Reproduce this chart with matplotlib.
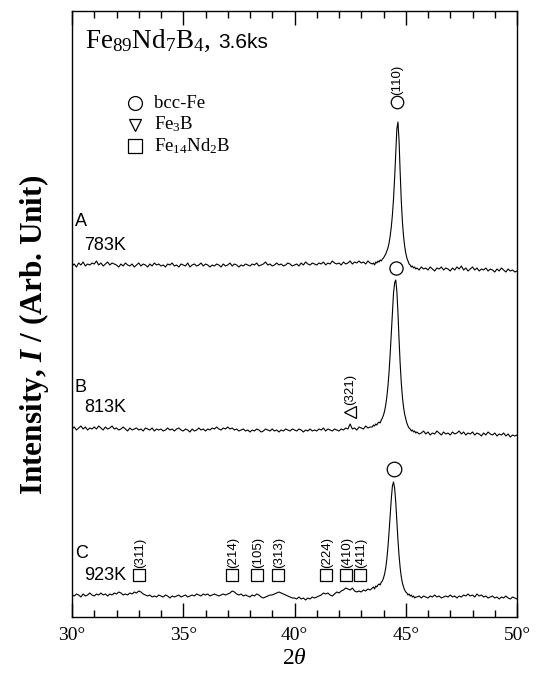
import numpy as np
import matplotlib.pyplot as plt

plt.rcParams['font.family'] = ['Liberation Sans', 'DejaVu Sans']
plt.rcParams['mathtext.fontset'] = 'custom'
plt.rcParams['mathtext.rm'] = 'Liberation Serif'
plt.rcParams['mathtext.it'] = 'Liberation Serif:italic'
plt.rcParams['mathtext.bf'] = 'Liberation Serif:bold'
plt.rcParams['mathtext.bfit'] = 'Liberation Serif:italic:bold'

SERIF = 'Liberation Serif'

# scan grid: 0.1 deg steps, 0.05 deg across the bcc-Fe (110) peak
tt_low = np.arange(300, 435) / 10      # 30.0 - 43.4
tt_peak = np.arange(870, 910) / 20     # 43.50 - 45.45
tt_high = np.arange(455, 501) / 10     # 45.5 - 50.0
two_theta = np.concatenate([tt_low, tt_peak, tt_high])

# --- A: 783 K ---
a_low = [11, 13, 10, 14, 12, 15, 11, 13, 12, 14,
         13, 16, 12, 14, 11, 13, 15, 12, 14, 13,
         12, 10, 13, 11, 14, 12, 11, 13, 10, 12,
         14, 11, 13, 12, 10, 13, 11, 14, 12, 13,
         11, 12, 10, 13, 12, 14, 11, 12, 10, 13,
         12, 11, 14, 10, 12, 13, 11, 12, 14, 11,
         13, 12, 10, 12, 11, 13, 12, 10, 13, 11,
         12, 14, 11, 13, 12, 10, 12, 11, 13, 12,
         11, 13, 12, 14, 11, 12, 13, 15, 12, 13,
         11, 12, 14, 12, 13, 11, 12, 14, 13, 11,
         12, 13, 11, 14, 12, 15, 13, 12, 14, 13,
         12, 14, 13, 15, 12, 14, 13, 16, 14, 13,
         14, 12, 15, 13, 14, 16, 13, 15, 14, 16,
         14, 15, 13, 16, 14]
a_peak = [13, 14, 12, 15, 14, 16, 15, 17, 16, 18,
          19, 21, 23, 26, 29, 34, 41, 50, 62, 78,
          99, 124, 148, 155, 136, 104, 76, 55, 41, 31,
          24, 19, 16, 13, 12, 10, 11, 9, 10, 8]
a_high = [9, 7, 10, 8, 9,
          7, 10, 8, 6, 9, 8, 10, 7, 9, 8,
          6, 9, 7, 10, 8, 11, 7, 9, 6, 8,
          10, 7, 9, 6, 8, 7, 9, 6, 8, 7,
          5, 8, 6, 9, 7, 5, 8, 6, 7, 5,
          6]

# --- B: 813 K ---
b_low = [12, 14, 11, 13, 15, 12, 14, 11, 13, 12,
         14, 12, 15, 13, 11, 14, 12, 13, 15, 12,
         13, 11, 12, 14, 12, 10, 13, 11, 12, 13,
         11, 12, 10, 13, 12, 11, 13, 10, 12, 11,
         12, 10, 11, 13, 11, 12, 10, 12, 13, 11,
         10, 12, 11, 9, 12, 10, 11, 13, 11, 12,
         10, 12, 11, 13, 12, 14, 12, 11, 13, 12,
         14, 12, 13, 11, 12, 10, 11, 12, 10, 11,
         9, 11, 10, 12, 11, 9, 10, 12, 11, 10,
         12, 10, 11, 9, 11, 10, 12, 11, 10, 12,
         11, 10, 12, 11, 9, 11, 10, 12, 10, 11,
         10, 12, 11, 13, 10, 12, 11, 10, 12, 11,
         10, 12, 11, 13, 12, 17, 12, 13, 11, 14,
         13, 12, 15, 13, 14]
b_peak = [14, 16, 15, 17, 16, 18, 19, 18, 21, 23,
          26, 30, 36, 44, 55, 69, 87, 108, 130, 148,
          158, 161, 150, 128, 101, 77, 58, 44, 34, 27,
          22, 18, 15, 13, 12, 10, 11, 9, 10, 8]
b_high = [9, 7, 8, 10, 7,
          9, 6, 8, 7, 10, 8, 6, 9, 7, 8,
          6, 9, 7, 8, 10, 7, 9, 6, 8, 7,
          9, 6, 8, 7, 5, 8, 6, 9, 7, 6,
          8, 5, 7, 6, 8, 5, 7, 4, 6, 5,
          6]

# --- C: 923 K ---
c_low = [8, 7, 9, 8, 6, 9, 7, 8, 10, 8,
         7, 9, 8, 10, 8, 9, 7, 9, 8, 10,
         9, 11, 10, 8, 9, 8, 10, 9, 11, 10,
         12, 11, 9, 8, 7, 8, 6, 7, 6, 8,
         7, 6, 8, 7, 5, 7, 6, 7, 8, 6,
         7, 8, 6, 7, 8, 7, 9, 8, 7, 9,
         8, 9, 7, 8, 9, 8, 7, 8, 9, 8,
         9, 10, 12, 11, 9, 8, 9, 7, 8, 7,
         6, 8, 7, 9, 8, 6, 5, 6, 7, 8,
         8, 9, 10, 11, 10, 9, 8, 7, 6, 5,
         5, 4, 6, 4, 5, 3, 5, 4, 6, 5,
         6, 7, 8, 10, 9, 10, 8, 7, 9, 11,
         10, 12, 13, 15, 14, 13, 15, 12, 11, 12,
         11, 13, 12, 14, 13]
c_peak = [15, 16, 14, 17, 16, 18, 19, 18, 21, 22,
          25, 29, 35, 44, 56, 71, 88, 104, 117, 121,
          115, 101, 82, 63, 47, 35, 26, 20, 16, 13,
          11, 10, 8, 9, 7, 8, 6, 7, 5, 6]
c_high = [6, 7, 5, 7, 6,
          5, 7, 6, 8, 6, 7, 5, 6, 7, 6,
          8, 6, 7, 5, 7, 6, 8, 7, 9, 7,
          8, 6, 9, 7, 8, 6, 7, 5, 6, 7,
          5, 6, 4, 6, 5, 7, 5, 4, 6, 5,
          4]

offsets = {'A': 340, 'B': 176, 'C': 14}
sample_temps = {'A': '783K', 'B': '813K', 'C': '923K'}
patterns = {'A': a_low + a_peak + a_high,
            'B': b_low + b_peak + b_high,
            'C': c_low + c_peak + c_high}

# Fe14Nd2B reflections marked on pattern C
fe14_pos = [33.0, 37.2, 38.3, 39.25, 41.4, 42.3, 42.95]
fe14_hkl = ['(311)', '(214)', '(105)', '(313)', '(224)', '(410)', '(411)']
# bcc-Fe (110) positions on A, B, C
bcc_pos = {'A': 44.6, 'B': 44.58, 'C': 44.47}
fe3b_pos = 42.5

xticks_major = [30, 35, 40, 45, 50]
xtick_labels = ['30°', '35°', '40°', '45°', '50°']

fig = plt.figure(figsize=(5.4, 6.73), dpi=100)
ax = fig.add_axes([72 / 540, 1 - 617 / 673, 445 / 540, 606 / 673])

for key in ['A', 'B', 'C']:
    y = np.array(patterns[key]) + offsets[key]
    ax.plot(two_theta, y, color='black', lw=0.8)

ax.set_xlim(30, 50)
ax.set_ylim(0, 606)
ax.set_yticks([])
ax.set_xticks(xticks_major)
ax.set_xticklabels(xtick_labels, family=SERIF, fontsize=14)
ax.set_xticks(np.arange(30, 51), minor=True)
ax.tick_params(axis='x', which='both', direction='in', top=True, bottom=True,
               width=1.0, pad=7)
ax.tick_params(axis='x', which='major', length=10)
ax.tick_params(axis='x', which='minor', length=5)
for s in ax.spines.values():
    s.set_linewidth(1.0)

ax.set_xlabel(r'$2\theta$', fontsize=17, labelpad=2)
ax.set_ylabel(r'Intensity, $\mathbfit{I}$ / (Arb. Unit)', family=SERIF,
              fontweight='bold', fontsize=22.5)
ax.yaxis.set_label_coords(-0.048, 0.465)

# sample labels
label_y = {'A': (396, 372), 'B': (229, 209), 'C': (64, 42)}
for key, (yl, yt) in label_y.items():
    ax.text(30.12, yl, key, fontsize=13, va='center', ha='left')
    ax.text(30.55, yt, sample_temps[key], fontsize=13, va='center', ha='left')

# composition header: serif formula followed by sans annealing time
head = ax.text(30.6, 569, r'$\mathrm{Fe_{89}Nd_{7}B_{4},}$', fontsize=19.5,
               va='baseline', ha='left')
fig.canvas.draw()
bb = head.get_window_extent()
x_end = ax.transData.inverted().transform((bb.x1, bb.y0))[0]
ax.text(x_end + 0.3, 569, '3.6ks', fontsize=15, va='baseline', ha='left')

# phase legend
mk = dict(color='black', mfc='white', mew=0.9, ls='none')
legend_items = [('o', 10, 'bcc-Fe'), ('v', 9, r'Fe$_3$B'),
                ('s', 10, r'Fe$_{14}$Nd$_2$B')]
for i, (m, ms, name) in enumerate(legend_items):
    yy = 514 - 21.5 * i
    ax.plot([32.82], [yy], marker=m, ms=ms, **mk)
    ax.text(33.7, yy, name, family=SERIF, fontsize=13.5, va='center', ha='left')

# bcc-Fe markers
ax.plot([bcc_pos['A']], [515], marker='o', ms=9, **mk)
ax.text(bcc_pos['A'], 522, '(110)', rotation=90, fontsize=9.5,
        ha='center', va='bottom')
ax.plot([bcc_pos['B']], [349], marker='o', ms=9.5, **mk)
ax.plot([bcc_pos['C']], [148], marker='o', ms=10.5, **mk)

# Fe3B marker
ax.plot([fe3b_pos], [205], marker='<', ms=8, **mk)
ax.text(fe3b_pos, 212, '(321)', rotation=90, fontsize=9.5,
        ha='center', va='bottom')

# Fe14Nd2B markers
ax.plot(fe14_pos, [42] * len(fe14_pos), marker='s', ms=9, **mk)
for p, hkl in zip(fe14_pos, fe14_hkl):
    ax.text(p + 0.05, 49, hkl, rotation=90, fontsize=9.5,
            ha='center', va='bottom')

fig.savefig('out.png', dpi=100)
